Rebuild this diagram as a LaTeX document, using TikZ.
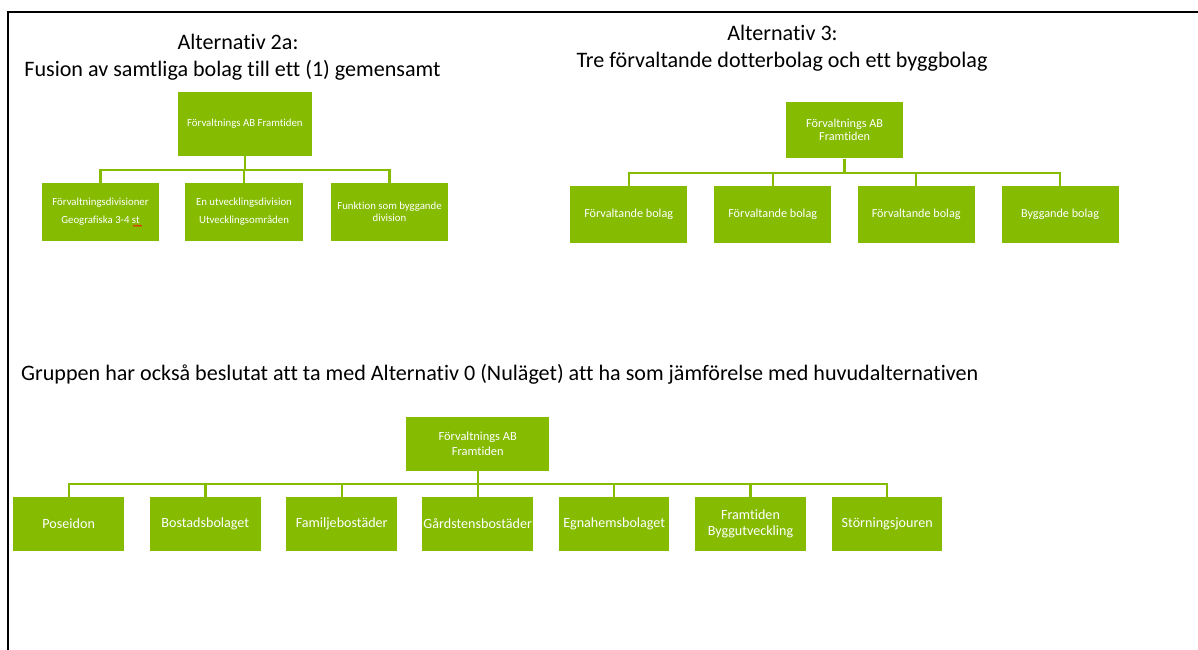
\documentclass[tikz,border=0pt]{standalone}
\usepackage{fontspec}
\setmainfont{Carlito}[Ligatures=NoCommon]
\definecolor{grn}{RGB}{133,187,0}
\tikzset{
  box/.style={fill=grn, text=white, inner sep=0pt, align=center},
  boxA/.style={box, minimum width=117.5, minimum height=58.3, font=\fontsize{10.8}{13}\selectfont},
  boxB/.style={box, minimum width=117, minimum height=57, font=\fontsize{12.2}{14}\selectfont},
  boxC/.style={box, minimum width=110.5, minimum height=53.7, font=\fontsize{14.1}{16}\selectfont},
  conn/.style={draw=grn, line width=2.4pt},
  title/.style={anchor=base, inner sep=0pt, font=\fontsize{22.1}{26}\selectfont},
}
\begin{document}
\begin{tikzpicture}[x=1pt,y=-1pt]
\useasboundingbox (0,0) rectangle (1198,649);
\draw[line width=2pt] (1199,12) -- (8,12) -- (8,650);

% Alternativ 2a
\node[title] (t2a) at (238,49.5) {Alternativ 2a:};
\node[title] (t2b) at (232.5,76.5) {Fusion av samtliga bolag till ett (1) gemensamt};
\node[boxA, minimum width=134.3, minimum height=64] (a0) at (244.9,123.7) {Förvaltnings AB Framtiden};
\node[boxA] (a1) at (100.5,211.9) {Förvaltningsdivisioner\\[4.5pt]Geografiska 3-4 st};
\node[boxA] (a2) at (244,211.9) {En utvecklingsdivision\\[4.5pt]Utvecklingsområden};
\node[boxA] (a3) at (389.5,211.9) {Funktion som byggande\\[-1pt]division};
\foreach \c in {a1,a2,a3} \draw[conn] (a0.south) -- ++(0,14) -| (\c.north);
\draw[red, line width=0.6pt] (133,226.5) -- (134.5,225) -- (136,226.5) -- (137.5,225) -- (139,226.5) -- (140.5,225) -- (142,226.5);

% Alternativ 3
\node[title] (t3a) at (782.5,40.5) {Alternativ 3:};
\node[title] (t3b) at (782,67.5) {Tre förvaltande dotterbolag och ett byggbolag};
\node[boxB, minimum width=116.8, minimum height=56.6] (b0) at (844.6,130) {Förvaltnings AB\\[-0.5pt]Framtiden};
\node[boxB] (b1) at (628.7,214.2) {Förvaltande bolag};
\node[boxB] (b2) at (772.7,214.2) {Förvaltande bolag};
\node[boxB] (b3) at (916.2,214.2) {Förvaltande bolag};
\node[boxB] (b4) at (1060,214.2) {Byggande bolag};
\foreach \c in {b1,b2,b3,b4} \draw[conn] (b0.south) -- ++(0,14.4) -| (\c.north);

% Alternativ 0
\node[title, anchor=base west] (t0) at (21,380) {Gruppen har också beslutat att ta med Alternativ 0 (Nuläget) att ha som jämförelse med huvudalternativen};
\node[boxC, minimum width=143.3, minimum height=54, font=\fontsize{12.4}{15}\selectfont] (c0) at (477.7,443.7) {Förvaltnings AB\\[0pt]Framtiden};
\node[boxC] (c1) at (68.7,523.9) {Poseidon};
\node[boxC] (c2) at (205.3,523.9) {Bostadsbolaget};
\node[boxC] (c3) at (341.7,523.9) {Familjebostäder};
\node[boxC] (c4) at (477.7,523.9) {Gårdstensbostäder};
\node[boxC] (c5) at (614.2,523.9) {Egnahemsbolaget};
\node[boxC] (c6) at (750.5,523.9) {Framtiden\\[0pt]Byggutveckling};
\node[boxC] (c7) at (887.2,523.9) {Störningsjouren};
\foreach \c in {c1,c2,c3,c4,c5,c6,c7} \draw[conn] (c0.south) -- ++(0,13) -| (\c.north);
\end{tikzpicture}
\end{document}
